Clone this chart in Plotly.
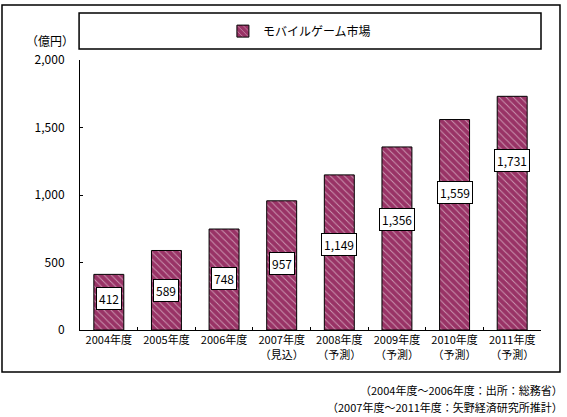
import plotly.graph_objects as go

# データ
years = ["2004年度", "2005年度", "2006年度", "2007年度", "2008年度", "2009年度", "2010年度", "2011年度"]
notes = ["", "", "", "（見込）", "（予測）", "（予測）", "（予測）", "（予測）"]
market = [412, 589, 748, 957, 1149, 1356, 1559, 1731]
label_pos = [230, 289, 378, 489, 637, 822, 1022, 1259]

FONT = "Noto Sans CJK JP"
ticktext = [y if n == "" else f"{y}<br>{n}" for y, n in zip(years, notes)]

fig = go.Figure()
fig.add_trace(go.Bar(
    x=years, y=market, name="モバイルゲーム市場",
    marker=dict(color="#993366", line=dict(color="black", width=1),
                pattern=dict(shape="\\", fgcolor="white", bgcolor="#993366",
                             size=5, solidity=0.18)),
))

for x, v, p in zip(years, market, label_pos):
    fig.add_annotation(x=x, y=p, text=f"{v:,}", showarrow=False,
                       bgcolor="white", bordercolor="black", borderwidth=1,
                       borderpad=2, font=dict(size=12, color="black", family=FONT))

# 外枠と凡例枠
fig.add_shape(type="rect", xref="paper", yref="paper",
              x0=-0.1692, x1=1.0412, y0=-0.1556, y1=1.2037,
              line=dict(color="black", width=1.5))
fig.add_shape(type="rect", xref="paper", yref="paper",
              x0=-0.002, x1=1.0, y0=1.0407, y1=1.174,
              line=dict(color="black", width=1.5))

fig.add_annotation(xref="paper", yref="paper", x=-0.065, y=1.074,
                   xanchor="center", yanchor="middle", text="（億円）",
                   showarrow=False, font=dict(size=12, color="black", family=FONT))
fig.add_annotation(xref="paper", yref="paper", x=1.052, y=-0.222,
                   xanchor="right", yanchor="middle",
                   text="（2004年度～2006年度：出所：総務省）", showarrow=False,
                   font=dict(size=11, color="black", family=FONT))
fig.add_annotation(xref="paper", yref="paper", x=1.052, y=-0.285,
                   xanchor="right", yanchor="middle",
                   text="（2007年度～2011年度：矢野経済研究所推計）", showarrow=False,
                   font=dict(size=11, color="black", family=FONT))

fig.update_layout(
    width=567, height=417,
    margin=dict(l=80, r=26, t=60, b=87),
    paper_bgcolor="white", plot_bgcolor="white",
    font=dict(family=FONT, size=12, color="black"),
    bargap=0.48,
    showlegend=True,
    legend=dict(x=0.31, y=1.107, xanchor="left", yanchor="middle",
                bgcolor="rgba(0,0,0,0)", font=dict(size=12)),
)
fig.update_xaxes(tickvals=years, ticktext=ticktext, showline=True, linecolor="black",
                 linewidth=1, ticks="inside", tickson="boundaries", ticklen=3,
                 tickcolor="black", showgrid=False, tickangle=0, automargin=False,
                 tickfont=dict(size=11))
fig.update_yaxes(range=[0, 2000], tickvals=[0, 500, 1000, 1500, 2000],
                 ticktext=["0", "500", "1,000", "1,500", "2,000"],
                 showline=True, linecolor="black", linewidth=1, ticks="inside",
                 ticklen=3, tickcolor="black", showgrid=False, zeroline=False,
                 ticklabelstandoff=12, automargin=False, tickfont=dict(size=12))

fig.write_html("out.html", config={"displayModeBar": False},
               post_script="document.body.style.margin='0';")
